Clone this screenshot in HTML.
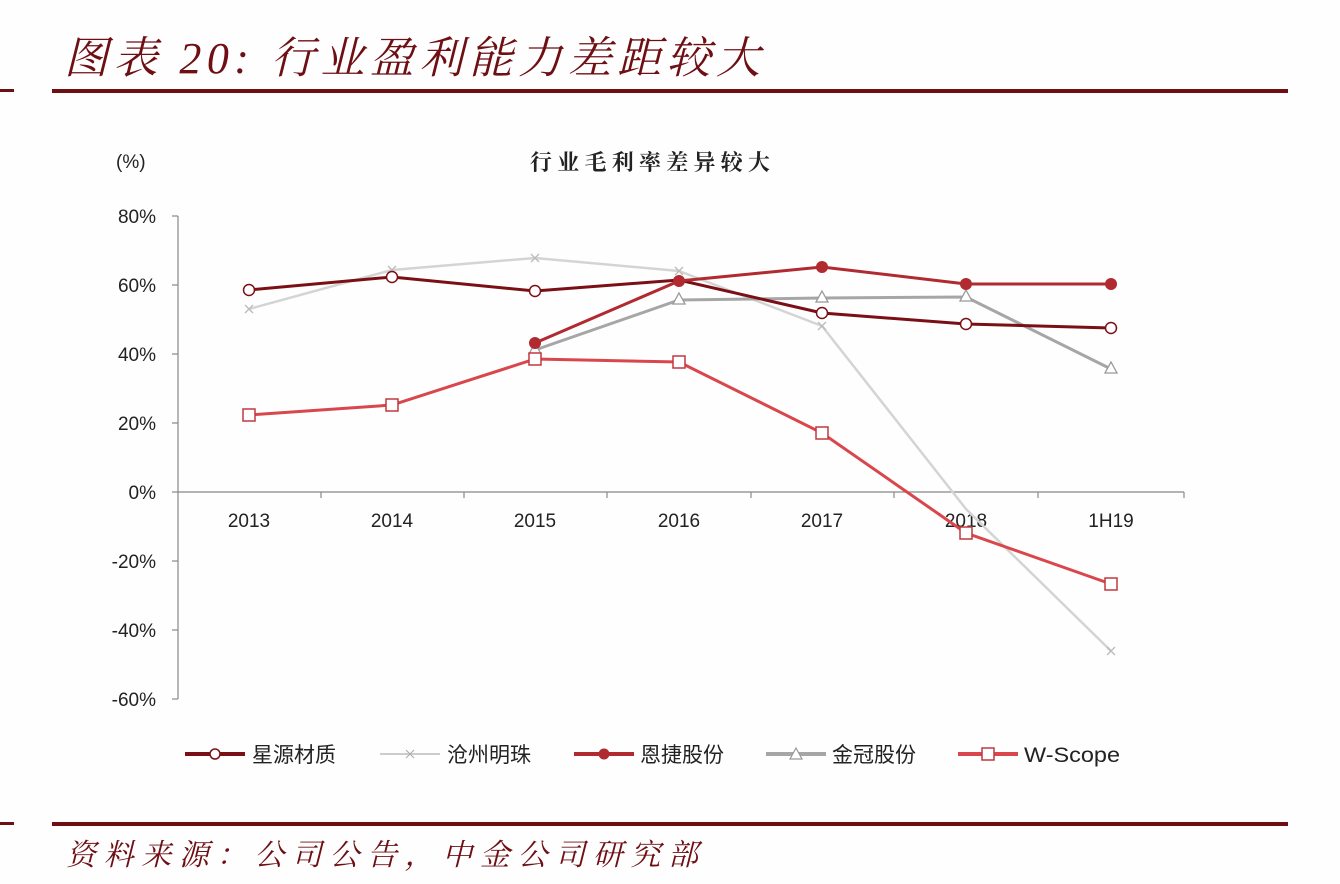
<!DOCTYPE html>
<html><head><meta charset="utf-8"><style>
body{margin:0;background:#fff;}
svg{display:block;}
</style></head><body>
<svg width="1340" height="884" xmlns="http://www.w3.org/2000/svg" font-family="Liberation Sans, Noto Sans CJK SC, sans-serif">
<rect width="1340" height="884" fill="#fefefe"/>
<text x="64" y="73" font-size="44" font-style="italic" fill="#6e0f14" font-family="Liberation Serif, Noto Serif CJK SC, serif" textLength="696" lengthAdjust="spacing">图表 20:  行业盈利能力差距较大</text>
<rect x="0" y="89" width="14" height="3" fill="#6e0f14"/>
<rect x="52" y="89" width="1236" height="4" fill="#6e0f14"/>
<text x="116" y="168" font-size="19" fill="#222">(%)</text>
<text x="530" y="170" font-size="22" font-weight="bold" fill="#222" font-family="Noto Serif CJK SC, serif" textLength="240" lengthAdjust="spacing">行业毛利率差异较大</text>
<g font-size="19" fill="#222" text-anchor="end">
<text x="156" y="223">80%</text><text x="156" y="292">60%</text><text x="156" y="361">40%</text><text x="156" y="430">20%</text><text x="156" y="499">0%</text><text x="156" y="568">-20%</text><text x="156" y="637">-40%</text><text x="156" y="706">-60%</text>
</g>
<g stroke="#888" stroke-width="1.2">
<line x1="178" y1="216" x2="178" y2="699"/>
<line x1="172" y1="216" x2="178" y2="216"/><line x1="172" y1="285" x2="178" y2="285"/><line x1="172" y1="354" x2="178" y2="354"/><line x1="172" y1="423" x2="178" y2="423"/><line x1="172" y1="492" x2="178" y2="492"/><line x1="172" y1="561" x2="178" y2="561"/><line x1="172" y1="630" x2="178" y2="630"/><line x1="172" y1="699" x2="178" y2="699"/>
<line x1="178" y1="492" x2="1184" y2="492"/>
<line x1="321" y1="492" x2="321" y2="498"/><line x1="464" y1="492" x2="464" y2="498"/><line x1="607" y1="492" x2="607" y2="498"/><line x1="751" y1="492" x2="751" y2="498"/><line x1="894" y1="492" x2="894" y2="498"/><line x1="1038" y1="492" x2="1038" y2="498"/><line x1="1184" y1="492" x2="1184" y2="498"/>
</g>
<g font-size="19" fill="#222" text-anchor="middle">
<text x="249" y="527">2013</text><text x="392" y="527">2014</text><text x="535" y="527">2015</text><text x="679" y="527">2016</text><text x="822" y="527">2017</text><text x="966" y="527">2018</text><text x="1111" y="527">1H19</text>
</g>
<polyline fill="none" stroke="#d4d4d4" stroke-width="2.5" points="249,309 392,270 535,258 679,271 822,326 966,509 1111,651"/>
<g stroke="#bbb" stroke-width="1.3">
<path d="M245,305l8,8M253,305l-8,8M388,266l8,8M396,266l-8,8M531,254l8,8M539,254l-8,8M675,267l8,8M683,267l-8,8M818,322l8,8M826,322l-8,8M1107,647l8,8M1115,647l-8,8"/>
</g>
<polyline fill="none" stroke="#a6a6a6" stroke-width="3" points="535,350 679,300 822,298 966,297 1111,369"/>
<g fill="#fff" stroke="#999" stroke-width="1.3">
<path d="M535,343l6,11h-12z"/><path d="M679,293l6,11h-12z"/><path d="M822,291l6,11h-12z"/><path d="M966,290l6,11h-12z"/><path d="M1111,362l6,11h-12z"/>
</g>
<polyline fill="none" stroke="#7a1015" stroke-width="3" points="249,290 392,277 535,291 679,280 822,313 966,324 1111,328"/>
<g fill="#fff" stroke="#7a1015" stroke-width="1.5">
<circle cx="249" cy="290" r="5.5"/><circle cx="392" cy="277" r="5.5"/><circle cx="535" cy="291" r="5.5"/><circle cx="822" cy="313" r="5.5"/><circle cx="966" cy="324" r="5.5"/><circle cx="1111" cy="328" r="5.5"/>
</g>
<polyline fill="none" stroke="#b02a30" stroke-width="3" points="535,343 679,281 822,267 966,284 1111,284"/>
<g fill="#b02a30">
<circle cx="535" cy="343" r="6"/><circle cx="679" cy="281" r="6"/><circle cx="822" cy="267" r="6"/><circle cx="966" cy="284" r="6"/><circle cx="1111" cy="284" r="6"/>
</g>
<polyline fill="none" stroke="#d9464c" stroke-width="3" points="249,415 392,405 535,359 679,362 822,433 966,533 1111,584"/>
<g fill="#fff" stroke="#c0383e" stroke-width="1.5">
<rect x="243" y="409" width="12" height="12"/><rect x="386" y="399" width="12" height="12"/><rect x="529" y="353" width="12" height="12"/><rect x="673" y="356" width="12" height="12"/><rect x="816" y="427" width="12" height="12"/><rect x="960" y="527" width="12" height="12"/><rect x="1105" y="578" width="12" height="12"/>
</g>
<g font-size="21" fill="#222">
<line x1="185" y1="754" x2="245" y2="754" stroke="#7a1015" stroke-width="4"/><circle cx="215" cy="754" r="5" fill="#fff" stroke="#7a1015" stroke-width="1.5"/>
<text x="252" y="762" font-family="Noto Sans CJK SC, sans-serif">星源材质</text>
<line x1="380" y1="754" x2="440" y2="754" stroke="#ccc" stroke-width="2"/><path d="M406,750l8,8M414,750l-8,8" stroke="#aaa" stroke-width="1"/>
<text x="447" y="762" font-family="Noto Sans CJK SC, sans-serif">沧州明珠</text>
<line x1="574" y1="754" x2="634" y2="754" stroke="#b02a30" stroke-width="4"/><circle cx="604" cy="754" r="5.5" fill="#b02a30"/>
<text x="640" y="762" font-family="Noto Sans CJK SC, sans-serif">恩捷股份</text>
<line x1="766" y1="754" x2="826" y2="754" stroke="#a6a6a6" stroke-width="4"/><path d="M796,748l6,11h-12z" fill="#fff" stroke="#999" stroke-width="1.2"/>
<text x="832" y="762" font-family="Noto Sans CJK SC, sans-serif">金冠股份</text>
<line x1="958" y1="754" x2="1018" y2="754" stroke="#d9464c" stroke-width="4"/><rect x="982" y="748" width="12" height="12" fill="#fff" stroke="#c0383e" stroke-width="1.5"/>
<text x="1024" y="762" textLength="96" lengthAdjust="spacingAndGlyphs">W-Scope</text>
</g>
<rect x="0" y="822" width="14" height="3" fill="#6e0f14"/>
<rect x="52" y="822" width="1236" height="4" fill="#6e0f14"/>
<text x="66" y="865" font-size="30" font-style="italic" fill="#6e0f14" font-family="Noto Serif CJK SC, serif" textLength="632" lengthAdjust="spacing">资料来源：公司公告，中金公司研究部</text>
</svg>
</body></html>
